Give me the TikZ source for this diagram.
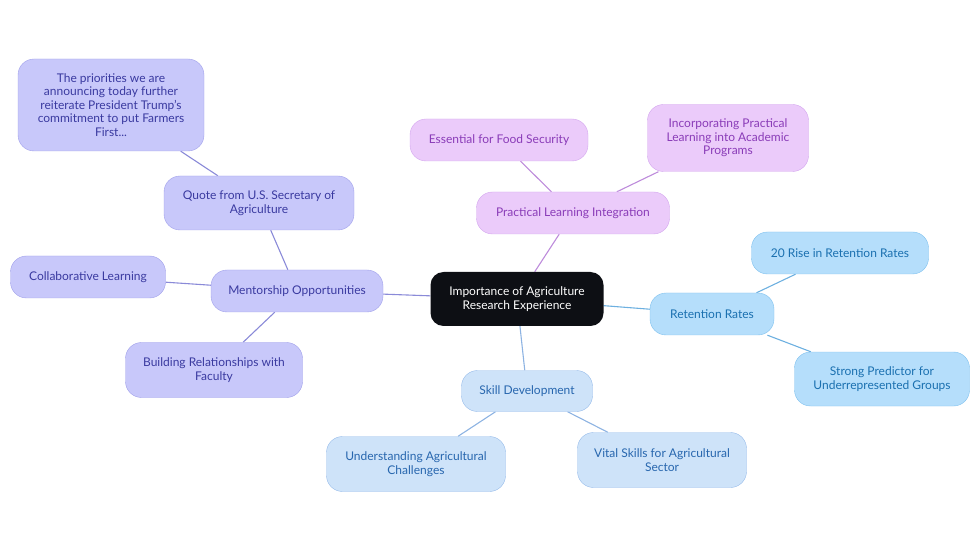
\documentclass[tikz,border=0pt]{standalone}
\usepackage{fontspec}
\setmainfont{Lato}
\usepackage{tikz}
\usetikzlibrary{backgrounds}
\definecolor{rootfill}{HTML}{0D0F14}
\definecolor{purpfill}{HTML}{EBCBFA}
\definecolor{purpdraw}{HTML}{D3A6EE}
\definecolor{purptext}{HTML}{8A3CB8}
\definecolor{purpline}{HTML}{BD8BDB}
\definecolor{retfill}{HTML}{B5DEFB}
\definecolor{retdraw}{HTML}{7FC1EE}
\definecolor{rettext}{HTML}{1A70B0}
\definecolor{retline}{HTML}{6DB0E0}
\definecolor{skillfill}{HTML}{CEE3F9}
\definecolor{skilldraw}{HTML}{98BDEA}
\definecolor{skilltext}{HTML}{2766AE}
\definecolor{skillline}{HTML}{8DB3E2}
\definecolor{lavfill}{HTML}{C8C8FA}
\definecolor{lavdraw}{HTML}{A0A0EA}
\definecolor{lavtext}{HTML}{3A3AA0}
\definecolor{lavline}{HTML}{8A8AD8}

\begin{document}
\begin{tikzpicture}[
  x=1pt, y=-1pt,
  every node/.style={rounded corners=16pt, align=center, inner sep=2pt, font=\fontsize{12}{13.5}\selectfont},
  topic/.style={fill=rootfill, text=white, rounded corners=13pt},
  purp/.style={draw=purpdraw, fill=purpfill, text=purptext},
  ret/.style={draw=retdraw, fill=retfill, text=rettext},
  skill/.style={draw=skilldraw, fill=skillfill, text=skilltext},
  lav/.style={draw=lavdraw, fill=lavfill, text=lavtext},
  purplink/.style={draw=purpline, line width=1.1pt},
  retlink/.style={draw=retline, line width=1.1pt},
  skilllink/.style={draw=skillline, line width=1.1pt},
  lavlink/.style={draw=lavline, line width=1.1pt}
]
  \useasboundingbox (0,0) rectangle (980,553);

  % centre
  \node[topic, minimum width=173pt, minimum height=54pt] (root) at (517,299) {Importance of Agriculture\\Research Experience};

  % practical learning
  \node[purp, minimum width=193pt, minimum height=42pt] (pli) at (573,213) {Practical Learning Integration};
  \node[purp, minimum width=178pt, minimum height=42pt] (food) at (499,140) {Essential for Food Security};
  \node[purp, minimum width=161pt, minimum height=67pt] (acad) at (728,138) {Incorporating Practical\\Learning into Academic\\Programs};

  % retention
  \node[ret, minimum width=124pt, minimum height=42pt] (rr) at (712,314) {Retention Rates};
  \node[ret, minimum width=177pt, minimum height=42pt] (rise) at (840,253) {20 Rise in Retention Rates};
  \node[ret, minimum width=175pt, minimum height=54pt] (under) at (882,379) {Strong Predictor for\\Underrepresented Groups};

  % skills
  \node[skill, minimum width=131pt, minimum height=41pt] (sd) at (527,391) {Skill Development};
  \node[skill, minimum width=179pt, minimum height=55pt] (chal) at (416,464) {Understanding Agricultural\\Challenges};
  \node[skill, minimum width=169pt, minimum height=55pt] (vital) at (662,460) {Vital Skills for Agricultural\\Sector};

  % mentorship
  \node[lav, minimum width=172pt, minimum height=42pt] (ment) at (297,291) {Mentorship Opportunities};
  \node[lav, minimum width=155pt, minimum height=42pt] (collab) at (88,277) {Collaborative Learning};
  \node[lav, minimum width=190pt, minimum height=54pt] (quote) at (259,203) {Quote from U.S. Secretary of\\Agriculture};
  \node[lav, minimum width=186pt, minimum height=92pt] (prio) at (111,105) {The priorities we are\\announcing today further\\reiterate President Trump's\\commitment to put Farmers\\First...};
  \node[lav, minimum width=177pt, minimum height=55pt] (fac) at (214,370) {Building Relationships with\\Faculty};

  \begin{scope}[on background layer]
    \draw[purplink] (root) -- (pli);
    \draw[purplink] (pli) -- (food);
    \draw[purplink] (pli) -- (acad);
    \draw[retlink] (root) -- (rr);
    \draw[retlink] (rr) -- (rise);
    \draw[retlink] (rr) -- (under);
    \draw[skilllink] (root) -- (sd);
    \draw[skilllink] (sd) -- (chal);
    \draw[skilllink] (sd) -- (vital);
    \draw[lavlink] (root) -- (ment);
    \draw[lavlink] (ment) -- (collab);
    \draw[lavlink] (ment) -- (quote);
    \draw[lavlink] (quote) -- (prio);
    \draw[lavlink] (ment) -- (fac);
  \end{scope}
\end{tikzpicture}
\end{document}
